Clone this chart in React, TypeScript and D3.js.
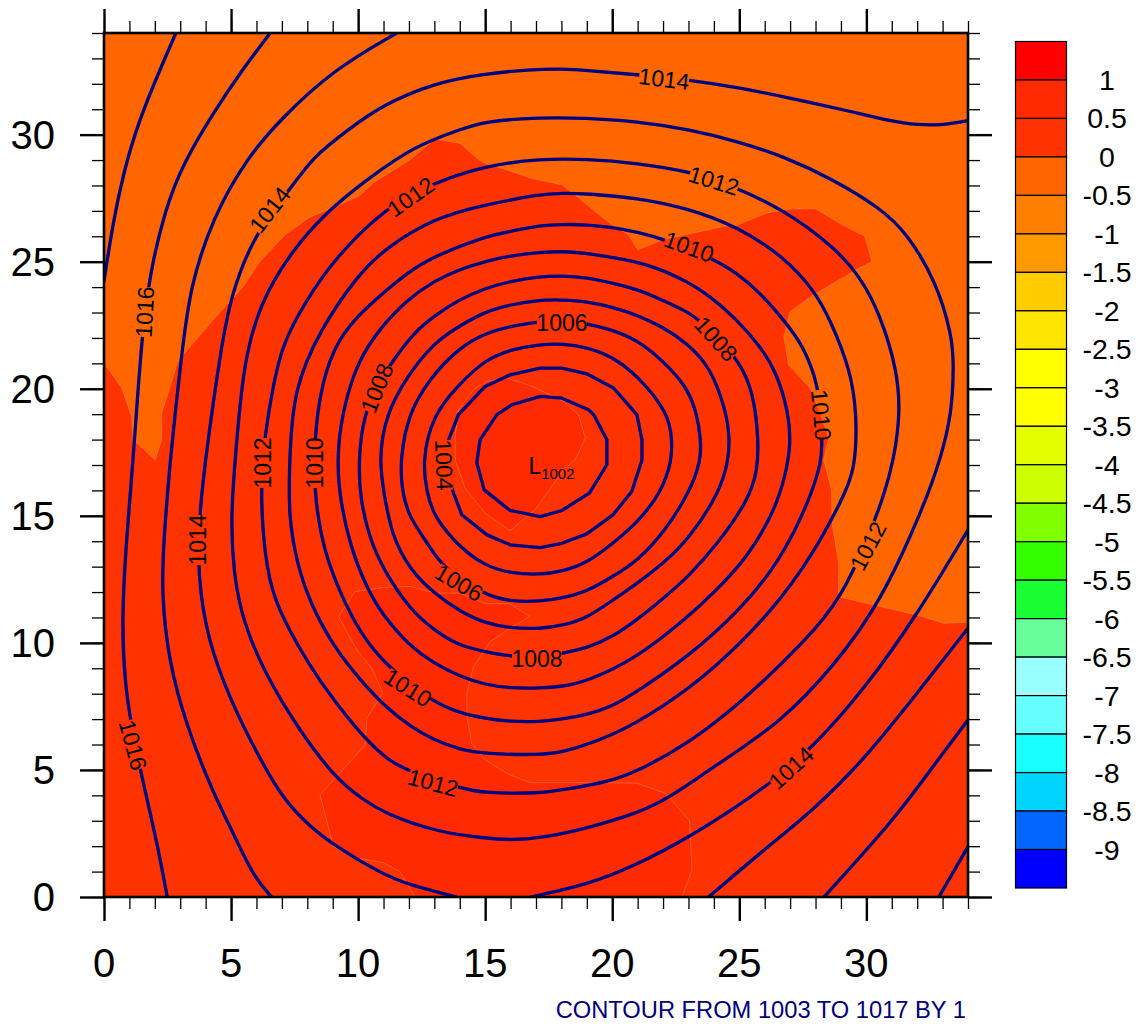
import React, { useEffect, useRef } from 'react';
import * as d3 from 'd3';

type Pt = [number, number];

const contour1003: Pt[] = [[17.17,19.7],[18.02,19.63],[19.07,19.17],[19.27,18.98],[19.79,17.99],[19.79,17.01],[19.1,15.89],[18.02,15.21],[17.17,14.97],[15.98,15.21],[14.96,16.02],[14.67,17.1],[14.8,17.99],[15.46,18.98],[16.05,19.37]];
const contour1004: Pt[] = [[17.17,20.81],[18.02,20.81],[19,20.59],[20.05,20.03],[20.97,18.98],[21.17,17.99],[21.17,17.2],[20.77,15.96],[20.03,15.04],[19,14.29],[18.02,13.92],[17.17,13.75],[15.98,13.86],[15.07,14.25],[14.08,15.04],[13.56,16.42],[13.43,17.2],[13.56,17.99],[13.95,18.98],[15,20.09],[15.98,20.55]];
const contour1005: Pt[] = [[17.17,21.75],[18.02,21.77],[19,21.64],[19.99,21.27],[20.97,20.55],[22.22,19.04],[22.35,17.99],[22.35,17.2],[21.95,15.96],[21.04,14.78],[20.03,13.92],[19,13.14],[18.02,12.81],[17.17,12.68],[15.98,12.74],[15,13.03],[14.02,13.73],[12.97,14.97],[12.7,15.96],[12.53,17.1],[12.9,18.91],[13.95,20.16],[15,21.14],[15.98,21.54]];
const contour1006: Pt[] = [[17.17,22.66],[18.02,22.65],[19,22.58],[19.99,22.32],[20.97,21.93],[21.95,21.14],[22.94,20.09],[23.33,19.04],[23.49,17.99],[23.49,17.2],[23.07,15.96],[22.02,14.32],[21.04,13.27],[20.03,12.61],[19,12.02],[18.02,11.76],[17.17,11.63],[15.98,11.63],[14.94,11.89],[13.29,13],[12.83,13.79],[11.98,14.97],[11.72,16.02],[11.65,17.2],[11.98,19.04],[12.83,20.42],[13.95,21.6],[15,22.19],[15.98,22.45]];
const contour1007: Pt[] = [[17.17,23.5],[18.02,23.5],[19,23.44],[19.99,23.22],[20.97,22.91],[21.95,22.45],[22.94,21.8],[23.86,20.88],[24.51,19.04],[24.62,17.99],[24.57,17.2],[24.25,15.96],[23,14.06],[22.02,13.14],[21,12.35],[20.03,11.69],[19,10.97],[18.02,10.68],[17.17,10.55],[15.98,10.58],[15,10.77],[14.02,11.23],[12.97,11.96],[12.05,12.87],[11.33,14.19],[11,15.96],[10.83,17.2],[11.06,18.91],[11.92,20.49],[12.97,21.8],[13.95,22.45],[15,23.04],[15.98,23.31]];
const contour1008: Pt[] = [[17.17,24.42],[18.02,24.45],[19,24.38],[19.99,24.16],[20.97,23.92],[21.95,23.5],[22.94,23.04],[23.4,22.72],[24.2,21.95],[25.04,21.01],[25.56,19.83],[25.76,17.99],[25.72,16.8],[25.37,15.63],[24.12,13.86],[23,12.61],[22.02,11.76],[20.97,10.9],[20.03,10.25],[19,9.79],[18.02,9.59],[17.17,9.46],[15.98,9.46],[15,9.66],[14.02,9.86],[12.97,10.51],[12.05,11.3],[11,12.87],[10.47,14.06],[10.08,15.63],[10.01,17.2],[10.21,18.91],[10.73,20.09],[11.39,21.14],[12.18,22.19],[12.97,22.85],[13.95,23.5],[15,23.96],[15.98,24.23]];
const contour1009: Pt[] = [[17.17,25.37],[18.02,25.41],[19,25.34],[20.97,25.01],[21.95,24.68],[22.94,24.23],[23.86,23.64],[24.84,22.78],[25.83,21.67],[26.48,20.62],[26.94,19.04],[27.01,17.99],[26.94,17.2],[26.55,15.5],[25.37,13.4],[23.99,11.96],[23,11.04],[20.97,9.4],[19,8.48],[18.02,8.28],[17.17,8.22],[15.98,8.22],[15,8.35],[14.02,8.67],[12.97,9.2],[12.05,9.86],[11,11.04],[10.34,12.15],[9.69,13.79],[9.29,15.63],[9.16,17.2],[9.36,19.04],[9.95,21.01],[10.8,22.32],[11.92,23.5],[12.97,24.23],[13.95,24.69],[15,25.01],[15.98,25.24]];
const contour1010: Pt[] = [[17.17,26.43],[18.02,26.47],[19,26.46],[19.99,26.35],[20.97,26.17],[22.09,25.87],[23.93,25.14],[24.91,24.55],[25.83,23.77],[26.74,22.72],[27.53,21.67],[27.99,20.42],[28.12,19.83],[28.26,17.99],[28.26,17.2],[27.73,15.5],[26.55,13.14],[25.04,11.3],[23,9.46],[20.97,8.08],[19.99,7.49],[19,7.17],[18.02,6.99],[17.17,6.9],[15.98,6.9],[15,7.03],[14.02,7.23],[12.9,7.69],[11.13,9.07],[10.08,10.38],[9.29,11.96],[8.64,13.66],[8.31,15.63],[8.24,17.2],[8.44,19.7],[9.03,21.67],[9.95,22.85],[10.99,23.77],[11.92,24.55],[12.97,25.21],[15,26],[15.98,26.19]];
const contour1011: Pt[] = [[17.17,27.66],[18.02,27.7],[19,27.68],[20.97,27.51],[22.94,27.11],[24.91,26.39],[26.74,25.21],[27.93,23.9],[28.58,22.72],[29.37,20.75],[29.63,19.04],[29.57,16.8],[29.04,15.63],[27.93,13.53],[26.35,11.3],[23.99,8.94],[22.02,7.49],[19.99,6.31],[18.02,5.68],[17.17,5.59],[15,5.63],[14.02,5.79],[12.97,6.18],[12.05,6.71],[11.06,7.49],[10.08,8.54],[9.03,9.86],[8.11,11.56],[7.59,13.14],[7.26,14.97],[7.3,17.2],[7.45,19.96],[8.5,22.32],[9.95,24.42],[10.99,25.47],[12.97,26.72],[15,27.24]];
const contour1012: Pt[] = [[17.17,29.05],[19,29.04],[20.97,28.88],[23.07,28.56],[24.91,27.9],[26.74,27.05],[28.71,25.6],[29.76,24.42],[30.55,22.91],[31.21,20.75],[31.34,19.04],[31.08,17.2],[30.68,15.76],[30.09,14.19],[29.04,11.82],[27.66,10.12],[25.04,7.62],[23,6.05],[21.1,5],[19.92,4.54],[18.02,4.21],[17.17,4.08],[15,4.08],[14.02,4.28],[12.05,4.93],[11.13,5.39],[10.08,6.44],[9.03,7.76],[8.11,9.07],[7.06,10.91],[6.47,12.35],[6.18,14.97],[6.21,17.2],[6.47,19.04],[6.93,21.67],[7.98,23.5],[9.03,25.08],[11.13,27.18],[12.97,28.1],[15,28.78]];
const contour1013: Pt[] = [[17.17,30.68],[18.87,30.66],[20.97,30.52],[23.07,30.2],[24.91,29.74],[26.74,29.15],[28.71,28.23],[30.55,27.11],[31.6,26.13],[32.78,24.16],[33.37,22.06],[33.44,21.01],[33.37,19.04],[32.91,17.2],[32.26,15.37],[30.55,11.56],[28.71,9.07],[26.61,6.84],[23.99,5.13],[22.22,3.88],[20.97,3.29],[19,2.7],[17.17,2.31],[15.98,2.24],[15,2.31],[13.03,2.57],[11.06,3.29],[10.2,3.82],[9.03,4.74],[7.59,6.71],[6.4,8.67],[5.48,10.77],[5.09,12.74],[4.99,14.97],[5.16,17.2],[5.48,21.01],[6.14,23.37],[7.32,25.34],[8.77,26.98],[10.34,28.23],[12.18,29.54],[14.02,30.2],[14.94,30.52]];
const contour1014a: Pt[] = [[34,30.55],[33.05,30.38],[32,30.38],[31.01,30.52],[29.11,30.98],[27,31.44],[25.04,31.84],[22.94,32.17],[20.97,32.36],[19,32.53],[18.02,32.59],[16.77,32.56],[14.94,32.4],[12.97,32.03],[10.87,31.12],[9.62,30.2],[8.24,29.15],[7.26,27.77],[5.88,26],[5.03,23.77],[4.63,21.8],[3.98,17.2],[3.71,14.58],[3.71,12.61],[4.04,10.25],[4.96,7.76],[6.01,5.66],[7.06,3.82],[8.11,2.77],[9.03,2.05],[11,0.87],[12.05,0.47],[13.88,0]];
const contour1014b: Pt[] = [[16.77,0],[19,0.47],[20.97,1.26],[23.07,2.38],[24.91,3.56],[26.22,4.48],[27.93,5.92],[29.9,8.15],[32,11.1],[34,14.45]];
const contour1015a: Pt[] = [[11.52,34],[9.03,32.56],[7,30.66],[5.62,29.08],[4.3,26.78],[3.39,24.03],[3.06,21.4],[2.6,17.2],[2.34,13.92],[2.27,11.96],[2.53,9.33],[3.25,6.71],[4.3,4.08],[5.09,2.51],[5.88,0.8],[6.6,0]];
const contour1015b: Pt[] = [[23.79,0],[25.96,1.85],[27.93,3.43],[29.9,5.39],[32,8.02],[34,10.58]];
const contour1016a: Pt[] = [[6.54,34],[5.35,32.43],[4.3,30.85],[3.12,28.88],[2.4,27.05],[1.81,24.55],[1.48,22.06],[1.15,17.2],[0.89,14.19],[0.69,10.91],[0.83,8.28],[1.09,6.71],[1.42,5],[2.07,2.24],[2.49,0]];
const contour1016b: Pt[] = [[28.33,0],[31.08,3.03],[32.52,5],[34,6.97]];
const contour1017a: Pt[] = [[2.83,34],[1.55,31.05],[0.89,29.02],[0.37,26.65],[0,24.23]];
const contour1017b: Pt[] = [[32.85,0],[34,1.98]];

const closedRings = [contour1003, contour1004, contour1005, contour1006, contour1007, contour1008, contour1009, contour1010, contour1011, contour1012, contour1013];
const openLines = [contour1014a, contour1014b, contour1015a, contour1015b, contour1016a, contour1016b, contour1017a, contour1017b];

// shaded regions
const redRegion: Pt[] = [[0,21.01],[0.7,20.03],[1.09,18.91],[1.15,17.86],[1.31,17.86],[2.01,17.2],[2.27,17.99],[2.27,19.04],[2.89,21.01],[3.06,21.27],[4.3,22.72],[5.49,24.03],[6.08,24.95],[7.13,26.06],[8.04,26.72],[8.64,26.98],[10.01,27.57],[10.6,28.1],[12.05,29.02],[13.03,29.83],[14.02,29.65],[14.74,29.02],[15,28.86],[15.85,28.62],[16.77,28.29],[18.02,28.03],[18.35,27.77],[19.92,26.5],[20.64,26.06],[21,25.47],[22.02,25.87],[24.38,26.39],[24.9,26.43],[26.09,26.92],[27,27.07],[27.99,27.09],[29.04,26.46],[29.94,26],[30.22,25.01],[29.5,24.62],[27.93,23.7],[27,23.04],[26.75,22.06],[26.94,20.94],[27.79,20.03],[28.19,19.04],[28.52,18.06],[28.32,17.2],[28.63,16.02],[28.65,14.71],[28.91,13.14],[28.91,11.82],[30.42,11.46],[32,11.1],[33.05,10.77],[34,10.81],[34,0],[0,0]];
const centerPatch: Pt[] = [[13.95,19.17],[14.54,19.96],[15.07,20.29],[15.85,20.42],[16.77,20.12],[17.69,19.7],[18.08,19.5],[18.67,18.98],[18.94,18.06],[18.54,17.2],[18.08,16.81],[16.97,15.24],[16.64,14.97],[15.98,14.42],[15,15.1],[14.21,16.09],[13.82,17.2],[13.82,18.12]];
const southPatch: Pt[] = [[16.75,11.04],[15.98,11.54],[15,11.54],[14.02,11.96],[13.03,11.96],[12.05,12.22],[11,12.18],[9.88,12.02],[9.23,11.04],[9.95,9.72],[10.54,9],[10.97,8.02],[10.34,7.03],[10.28,5.98],[8.5,4.02],[9.03,1.98],[10.01,1.52],[11,1.35],[11.65,1],[12.24,0],[22.74,0],[23.14,1.06],[23.04,3],[22.09,4.08],[20.97,4.48],[19,4.5],[16.77,4.5],[15.98,4.8],[15,5.39],[14.47,6.05],[14.28,7.1],[14.28,8.02],[14.54,9.07],[15.2,10.05],[15.98,10.58]];

const labelTexts = ['1014','1014','1012','1012','1010','1008','1006','1010','1012','1014','1008','1012','1010','1006','1004','1008','1012','1010','1014','1016','1016'];
const labelX = [22.04,6.53,12.08,24,23.02,24.08,18.02,28.22,30.07,27.04,17.04,12.95,11.96,13.97,13.38,10.74,6.26,8.3,3.7,1.61,1.14];
const labelY = [32.19,27.04,27.55,28.18,25.58,21.96,22.59,18.97,13.81,5.08,9.37,4.49,8.23,12.36,17,20.03,17.08,17.08,14.05,23.02,5.98];
const labelAngles = [7,-52,-35,17,20,48,0,85,-62,-42,0,15,32,30,88,-68,-90,-90,-90,-87,75];

const legendLabels = ['1','0.5','0','-0.5','-1','-1.5','-2','-2.5','-3','-3.5','-4','-4.5','-5','-5.5','-6','-6.5','-7','-7.5','-8','-8.5','-9'];
const legendColors = ['#ff0000','#ff2a00','#ff3300','#ff6600','#ff7f00','#ff9900','#ffcc00','#ffe500','#ffff00','#ffff00','#e5ff00','#ccff00','#80ff00','#33ff00','#19ff33','#66ff99','#99ffff','#66ffff','#19ffff','#00d4ff','#0066ff','#0000ff'];

const fontFamily = '"Liberation Sans", Arial, sans-serif';

const App: React.FC = () => {
  const ref = useRef<SVGSVGElement>(null);

  useEffect(() => {
    if (!ref.current) return;
    const svg = d3.select(ref.current);
    svg.selectAll('*').remove();

    const x = d3.scaleLinear().domain([0, 34]).range([104, 968]);
    const y = d3.scaleLinear().domain([0, 34]).range([897, 33]);

    const defs = svg.append('defs');
    defs.append('clipPath').attr('id', 'plot-clip').append('rect')
      .attr('x', 104).attr('y', 33).attr('width', 864).attr('height', 864);

    const mask = defs.append('mask').attr('id', 'label-gaps')
      .attr('maskUnits', 'userSpaceOnUse')
      .attr('x', 0).attr('y', 0).attr('width', 1141).attr('height', 1027);
    mask.append('rect').attr('width', 1141).attr('height', 1027).attr('fill', 'white');
    labelTexts.forEach((_, i) => {
      mask.append('rect')
        .attr('x', -25).attr('y', -8).attr('width', 50).attr('height', 16)
        .attr('fill', 'black')
        .attr('transform', `translate(${x(labelX[i])},${y(labelY[i])}) rotate(${labelAngles[i]})`);
    });

    const plot = svg.append('g').attr('clip-path', 'url(#plot-clip)');
    plot.append('rect').attr('x', 104).attr('y', 33).attr('width', 864).attr('height', 864).attr('fill', '#ff6600');

    const area = d3.line<Pt>().x((d) => x(d[0])).y((d) => y(d[1])).curve(d3.curveLinearClosed);
    const regions: [Pt[], string][] = [[redRegion, '#ff3300'], [centerPatch, '#ff2a00'], [southPatch, '#ff2a00']];
    regions.forEach(([pts, color]) => {
      plot.append('path').attr('d', area(pts))
        .attr('fill', color)
        .attr('stroke', '#ff8855')
        .attr('stroke-width', 0.5);
    });

    const lines = plot.append('g')
      .attr('mask', 'url(#label-gaps)')
      .attr('fill', 'none')
      .attr('stroke', '#000080')
      .attr('stroke-width', 3.3)
      .attr('stroke-linejoin', 'round');

    // read-off points are a bit noisy, so the longer contours go through a basis spline
    const innerLine = d3.line<Pt>().x((d) => x(d[0])).y((d) => y(d[1])).curve(d3.curveLinearClosed);
    const ringLine = d3.line<Pt>().x((d) => x(d[0])).y((d) => y(d[1])).curve(d3.curveBasisClosed);
    const openLine = d3.line<Pt>().x((d) => x(d[0])).y((d) => y(d[1])).curve(d3.curveBasis);

    closedRings.forEach((ring, i) => {
      lines.append('path').attr('d', i < 2 ? innerLine(ring) : ringLine(ring));
    });
    openLines.forEach((l) => lines.append('path').attr('d', openLine(l)));

    const labels = svg.append('g').attr('font-family', fontFamily).attr('font-size', 23).attr('text-anchor', 'middle').attr('fill', '#000');
    labelTexts.forEach((t, i) => {
      labels.append('text')
        .attr('transform', `translate(${x(labelX[i])},${y(labelY[i])}) rotate(${labelAngles[i]})`)
        .attr('dy', 8)
        .text(t);
    });

    // low marker
    const low = svg.append('text').attr('font-family', fontFamily).attr('x', x(16.7)).attr('y', y(16.65)).attr('font-size', 23);
    low.append('tspan').text('L');
    low.append('tspan').attr('font-size', 15).attr('dy', 5).text('1002');

    // axes
    const minor = d3.range(0, 35);
    const major = d3.range(0, 35, 5);
    const drawAxis = (axis: d3.Axis<d3.NumberValue>, tx: number, ty: number, width: number) => {
      const g = svg.append('g').attr('transform', `translate(${tx},${ty})`).call(axis as any);
      g.select('.domain').remove();
      g.selectAll('line').attr('stroke', '#000').attr('stroke-width', width);
      g.selectAll('text').remove();
    };
    drawAxis(d3.axisBottom(x).tickValues(minor).tickSize(12), 0, 897, 1.3);
    drawAxis(d3.axisTop(x).tickValues(minor).tickSize(12), 0, 33, 1.3);
    drawAxis(d3.axisLeft(y).tickValues(minor).tickSize(12), 104, 0, 1.3);
    drawAxis(d3.axisRight(y).tickValues(minor).tickSize(12), 968, 0, 1.3);
    drawAxis(d3.axisBottom(x).tickValues(major).tickSize(24), 0, 897, 2.4);
    drawAxis(d3.axisTop(x).tickValues(major).tickSize(24), 0, 33, 2.4);
    drawAxis(d3.axisLeft(y).tickValues(major).tickSize(24), 104, 0, 2.4);
    drawAxis(d3.axisRight(y).tickValues(major).tickSize(24), 968, 0, 2.4);

    svg.append('rect').attr('x', 104).attr('y', 33).attr('width', 864).attr('height', 864)
      .attr('fill', 'none').attr('stroke', '#000').attr('stroke-width', 2.6);

    const tickLabels = svg.append('g').attr('font-family', fontFamily).attr('font-size', 40).attr('fill', '#000');
    major.filter((v) => v <= 30).forEach((v) => {
      tickLabels.append('text').attr('x', x(v)).attr('y', 977).attr('text-anchor', 'middle').text(v);
      tickLabels.append('text').attr('x', 55).attr('y', y(v) + 14).attr('text-anchor', 'end').text(v);
    });

    // label bar
    const bar = d3.scaleLinear().domain([0, legendColors.length]).range([41.5, 888]);
    const legend = svg.append('g');
    legendColors.forEach((c, i) => {
      legend.append('rect')
        .attr('x', 1015.5).attr('width', 51)
        .attr('y', bar(i)).attr('height', bar(i + 1) - bar(i))
        .attr('fill', c)
        .attr('stroke', '#000').attr('stroke-width', 1.2);
    });
    legendLabels.forEach((t, i) => {
      legend.append('text')
        .attr('x', 1107).attr('y', bar(i + 1) + 10)
        .attr('text-anchor', 'middle')
        .attr('font-family', fontFamily).attr('font-size', 28.5).attr('fill', '#000')
        .text(t);
    });

    svg.append('text')
      .attr('x', 966).attr('y', 1018).attr('text-anchor', 'end')
      .attr('font-family', fontFamily).attr('font-size', 23.7).attr('fill', '#000080')
      .text('CONTOUR FROM 1003 TO 1017 BY 1');
  }, []);

  return (
    <svg
      ref={ref}
      width={1141}
      height={1027}
      style={{ position: 'absolute', left: 0, top: 0, display: 'block', background: '#fff' }}
    />
  );
};

export default App;
